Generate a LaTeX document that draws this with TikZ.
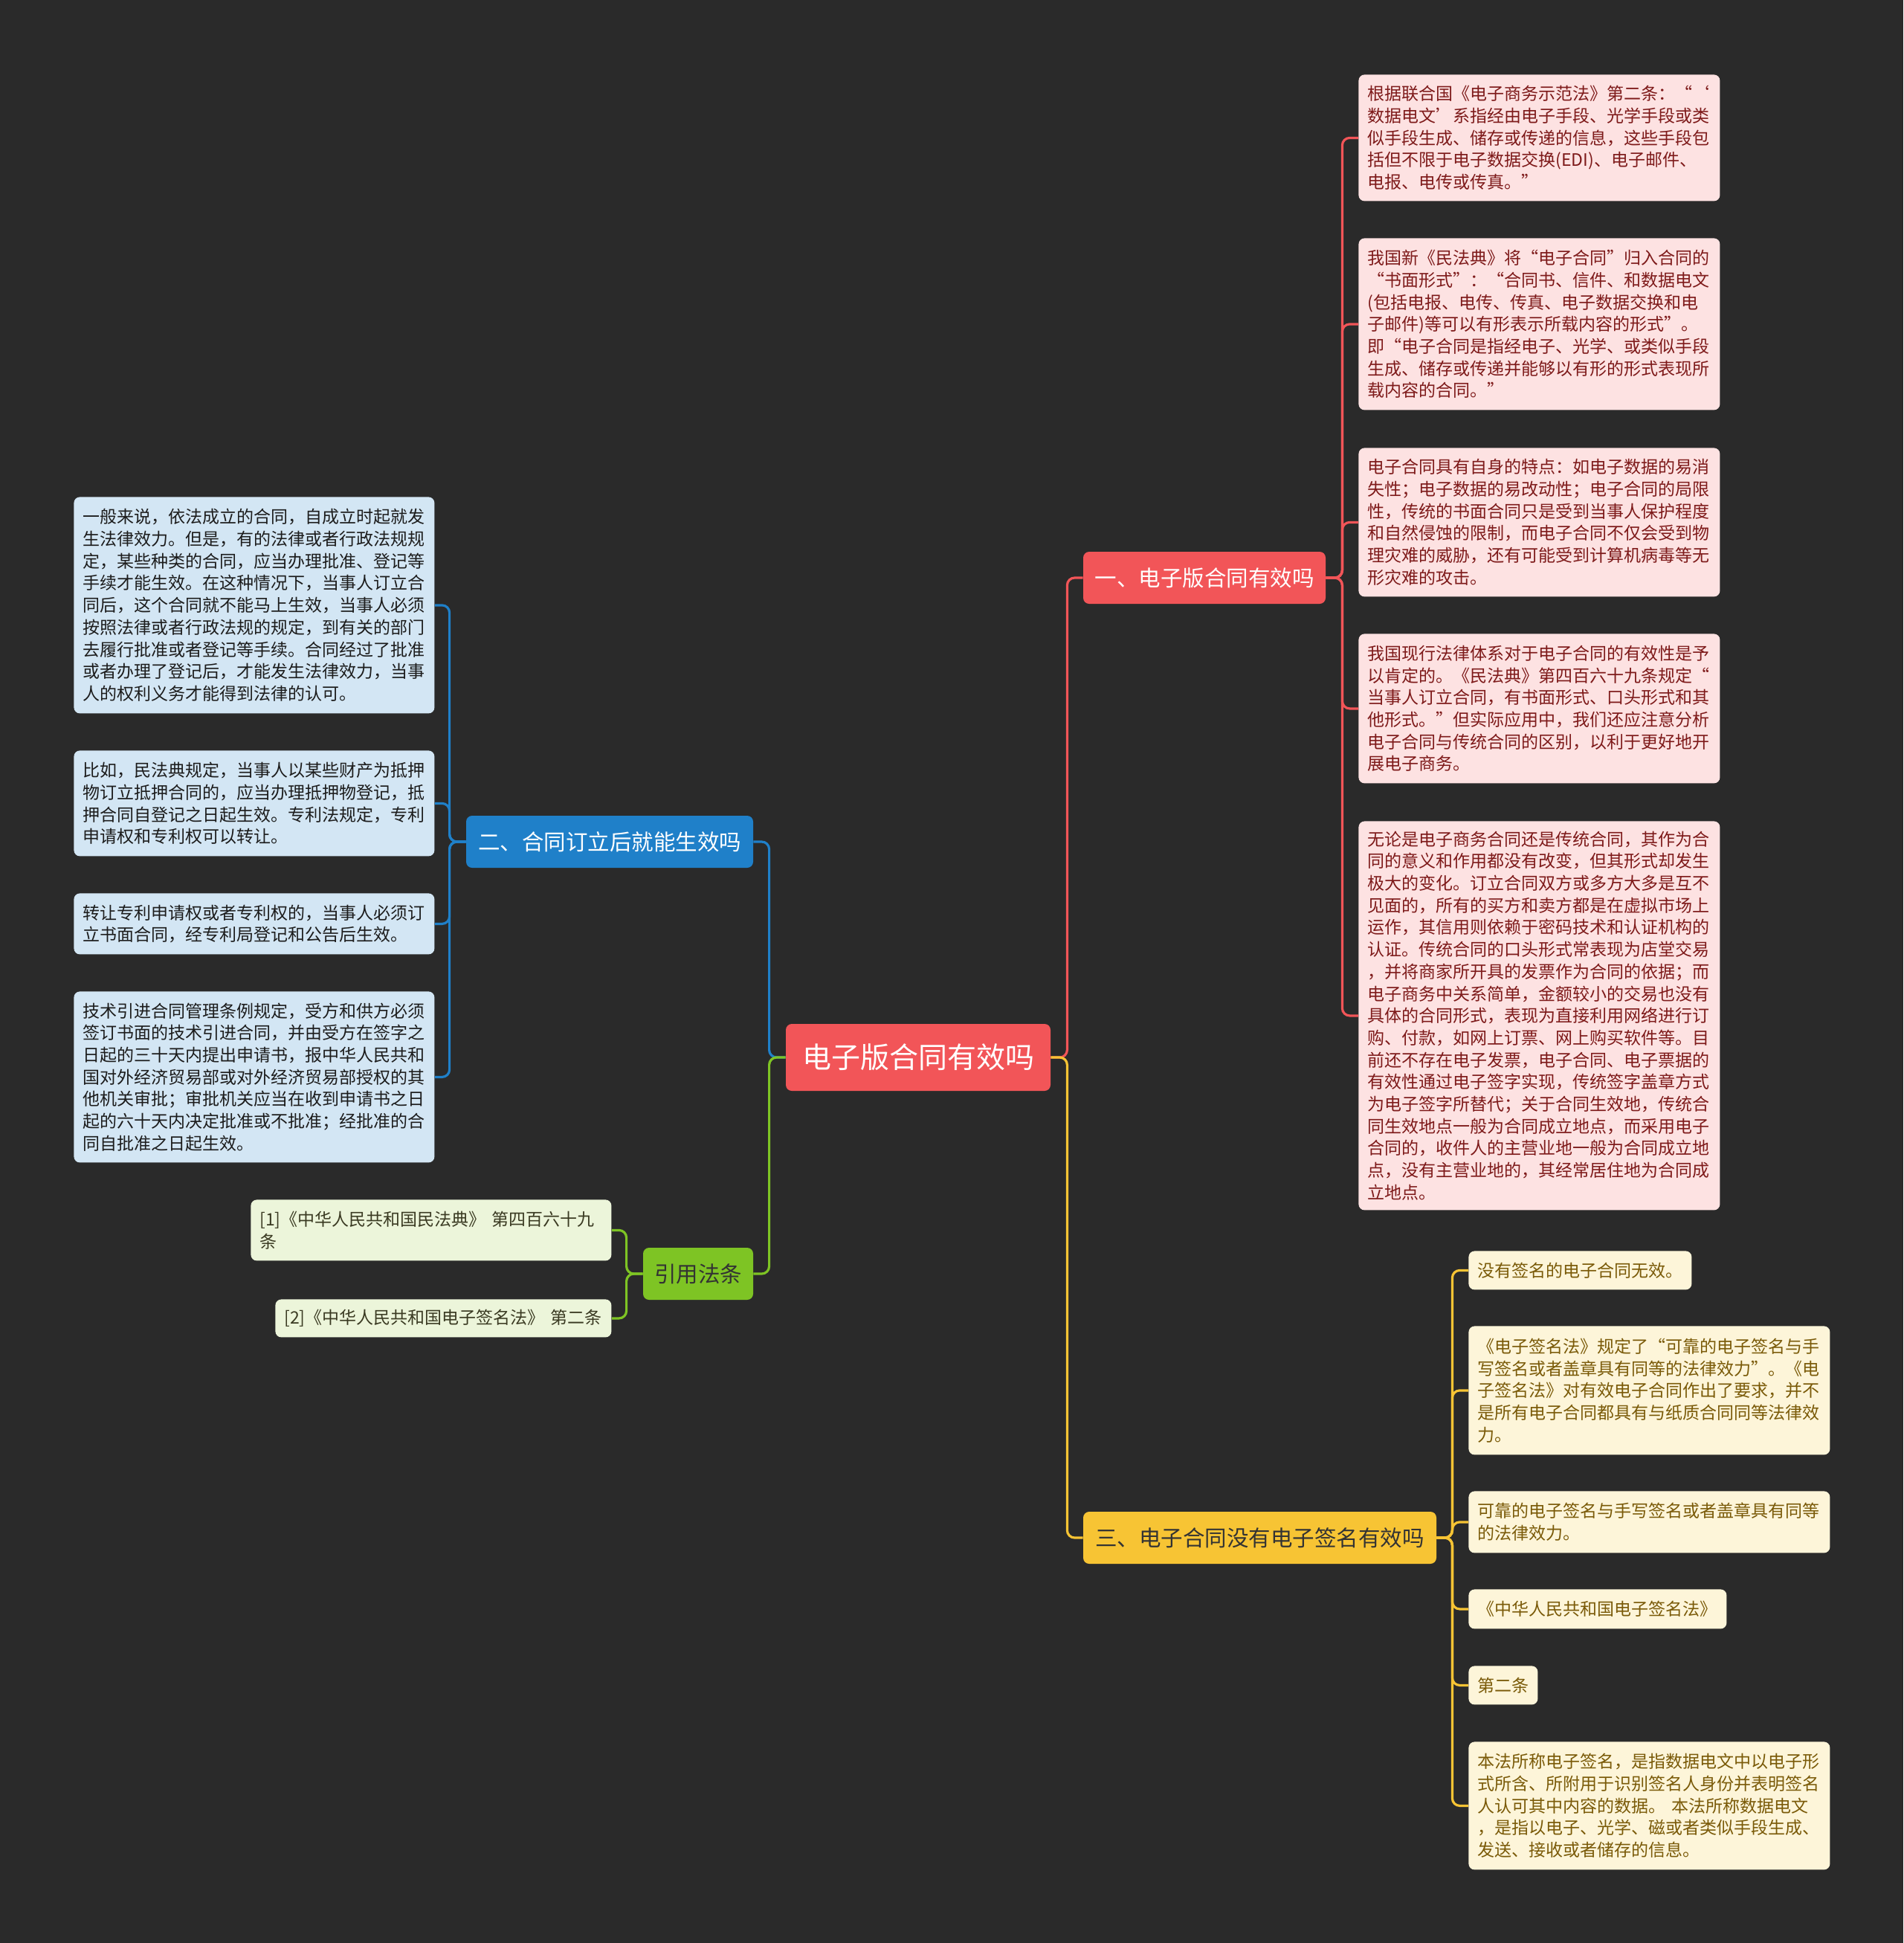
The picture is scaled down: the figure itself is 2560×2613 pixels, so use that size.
\documentclass[tikz,border=0pt]{standalone}
\usepackage{fontspec}
\newfontfamily\cjk{Noto Sans CJK SC}
\definecolor{bg}{HTML}{2A2A2A}
\definecolor{redB}{HTML}{F25558}
\definecolor{blueB}{HTML}{1F80C9}
\definecolor{yelB}{HTML}{F7C434}
\definecolor{greB}{HTML}{7EC424}
\definecolor{pinkL}{HTML}{FDE2E2}
\definecolor{blueL}{HTML}{D3E6F4}
\definecolor{greL}{HTML}{ECF5DA}
\definecolor{yelL}{HTML}{FDF5D9}
\definecolor{redT}{HTML}{7E1A1A}
\definecolor{blueT}{HTML}{1C1C1C}
\definecolor{greT}{HTML}{3A3A22}
\definecolor{yelT}{HTML}{7A5A08}
\tikzset{
  leaf/.style={anchor=north west, rounded corners=4pt, inner xsep=6pt, inner ysep=2pt, align=left,
    font=\cjk\fontsize{11.5}{14.85}\selectfont},
  leafR/.style={leaf, fill=pinkL, text=redT},
  leafB/.style={leaf, fill=blueL, text=blueT},
  leafG/.style={leaf, fill=greL, text=greT},
  leafY/.style={leaf, fill=yelL, text=yelT},
  branch/.style={rounded corners=4pt, inner sep=2pt, minimum height=35pt, align=center,
    font=\cjk\fontsize{14.75}{18}\selectfont},
  central/.style={rounded corners=4pt, fill=redB, text=white, minimum width=178pt, minimum height=45pt,
    font=\cjk\fontsize{19.5}{24}\selectfont},
  con/.style={line width=1.6pt, rounded corners=5pt},
  conR/.style={con, draw=redB},
  conB/.style={con, draw=blueB},
  conY/.style={con, draw=yelB},
  conG/.style={con, draw=greB}
}
\begin{document}
\begin{tikzpicture}[x=0.5pt,y=-0.5pt]
\fill[bg] (0,0) rectangle (2560,2613);
\useasboundingbox (0,0) rectangle (2560,2613);

% central
\node[central] (c) at (1235,1422) {电子版合同有效吗};

% branches
\node[branch, fill=redB, text=white, minimum width=163pt] (b1) at (1620,777) {一、电子版合同有效吗};
\node[branch, fill=blueB, text=white, minimum width=193pt] (b2) at (820,1132) {二、合同订立后就能生效吗};
\node[branch, fill=yelB, text=black!80, minimum width=237.5pt] (b3) at (1694.5,2068) {三、电子合同没有电子签名有效吗};
\node[branch, fill=greB, text=black!80, minimum width=74pt] (b4) at (939,1713) {引用法条};

% branch 1 leaves
\node[leafR, text width=231pt, minimum height=85pt] (l1) at (1827,100) {根据联合国《电子商务示范法》第二条：“‘\\数据电文’系指经由电子手段、光学手段或类\\似手段生成、储存或传递的信息，这些手段包\\括但不限于电子数据交换(EDI)、电子邮件、\\电报、电传或传真。”};
\node[leafR, text width=231pt, minimum height=115.5pt] (l2) at (1827,320) {我国新《民法典》将“电子合同”归入合同的\\“书面形式”：“合同书、信件、和数据电文\\(包括电报、电传、传真、电子数据交换和电\\子邮件)等可以有形表示所载内容的形式”。\\即“电子合同是指经电子、光学、或类似手段\\生成、储存或传递并能够以有形的形式表现所\\载内容的合同。”};
\node[leafR, text width=231pt, minimum height=100pt] (l3) at (1827,602) {电子合同具有自身的特点：如电子数据的易消\\失性；电子数据的易改动性；电子合同的局限\\性，传统的书面合同只是受到当事人保护程度\\和自然侵蚀的限制，而电子合同不仅会受到物\\理灾难的威胁，还有可能受到计算机病毒等无\\形灾难的攻击。};
\node[leafR, text width=231pt, minimum height=100.5pt] (l4) at (1827,852) {我国现行法律体系对于电子合同的有效性是予\\以肯定的。《民法典》第四百六十九条规定“\\当事人订立合同，有书面形式、口头形式和其\\他形式。”但实际应用中，我们还应注意分析\\电子合同与传统合同的区别，以利于更好地开\\展电子商务。};
\node[leafR, text width=231pt, minimum height=261.5pt] (l5) at (1827,1104) {无论是电子商务合同还是传统合同，其作为合\\同的意义和作用都没有改变，但其形式却发生\\极大的变化。订立合同双方或多方大多是互不\\见面的，所有的买方和卖方都是在虚拟市场上\\运作，其信用则依赖于密码技术和认证机构的\\认证。传统合同的口头形式常表现为店堂交易\\，并将商家所开具的发票作为合同的依据；而\\电子商务中关系简单，金额较小的交易也没有\\具体的合同形式，表现为直接利用网络进行订\\购、付款，如网上订票、网上购买软件等。目\\前还不存在电子发票，电子合同、电子票据的\\有效性通过电子签字实现，传统签字盖章方式\\为电子签字所替代；关于合同生效地，传统合\\同生效地点一般为合同成立地点，而采用电子\\合同的，收件人的主营业地一般为合同成立地\\点，没有主营业地的，其经常居住地为合同成\\立地点。};

% branch 2 leaves
\node[leafB, text width=230.5pt, minimum height=145.5pt] (m1) at (99,668) {一般来说，依法成立的合同，自成立时起就发\\生法律效力。但是，有的法律或者行政法规规\\定，某些种类的合同，应当办理批准、登记等\\手续才能生效。在这种情况下，当事人订立合\\同后，这个合同就不能马上生效，当事人必须\\按照法律或者行政法规的规定，到有关的部门\\去履行批准或者登记等手续。合同经过了批准\\或者办理了登记后，才能发生法律效力，当事\\人的权利义务才能得到法律的认可。};
\node[leafB, text width=230.5pt, minimum height=71pt] (m2) at (99,1009) {比如，民法典规定，当事人以某些财产为抵押\\物订立抵押合同的，应当办理抵押物登记，抵\\押合同自登记之日起生效。专利法规定，专利\\申请权和专利权可以转让。};
\node[leafB, text width=230.5pt, minimum height=41pt] (m3) at (99,1201) {转让专利申请权或者专利权的，当事人必须订\\立书面合同，经专利局登记和公告后生效。};
\node[leafB, text width=230.5pt, minimum height=115pt] (m4) at (99,1333) {技术引进合同管理条例规定，受方和供方必须\\签订书面的技术引进合同，并由受方在签字之\\日起的三十天内提出申请书，报中华人民共和\\国对外经济贸易部或对外经济贸易部授权的其\\他机关审批；审批机关应当在收到申请书之日\\起的六十天内决定批准或不批准；经批准的合\\同自批准之日起生效。};

% branch 4 leaves
\node[leafG, text width=230.5pt, minimum height=41pt] (g1) at (337,1613) {[1]《中华人民共和国民法典》~第四百六十九\\条};
\node[leafG, text width=214pt, minimum height=25.5pt] (g2) at (370,1747) {[2]《中华人民共和国电子签名法》~第二条};

% branch 3 leaves
\node[leafY, text width=138pt, minimum height=26pt] (y1) at (1975,1682) {没有签名的电子合同无效。};
\node[leafY, text width=231pt, minimum height=86.5pt] (y2) at (1975,1783) {《电子签名法》规定了“可靠的电子签名与手\\写签名或者盖章具有同等的法律效力”。《电\\子签名法》对有效电子合同作出了要求，并不\\是所有电子合同都具有与纸质合同同等法律效\\力。};
\node[leafY, text width=231pt, minimum height=41.5pt] (y3) at (1975,2005) {可靠的电子签名与手写签名或者盖章具有同等\\的法律效力。};
\node[leafY, text width=161.5pt, minimum height=26.5pt] (y4) at (1975,2137) {《中华人民共和国电子签名法》};
\node[leafY, text width=34.5pt, minimum height=26pt] (y5) at (1975,2240) {第二条};
\node[leafY, text width=231pt, minimum height=86pt] (y6) at (1975,2342) {本法所称电子签名，是指数据电文中以电子形\\式所含、所附用于识别签名人身份并表明签名\\人认可其中内容的数据。~本法所称数据电文\\，是指以电子、光学、磁或者类似手段生成、\\发送、接收或者储存的信息。};

% connectors: central to branches
\draw[conR] (c.east) -- ++(22,0) |- (b1.west);
\draw[conY] (c.east) -- ++(22,0) |- (b3.west);
\draw[conB] (c.west) -- ++(-22,0) |- (b2.east);
\draw[conG] (c.west) -- ++(-22,0) |- (b4.east);

% branch 1
\foreach \n in {l1,l2,l3,l4,l5} \draw[conR] (b1.east) -- ++(22,0) |- (\n.west);
% branch 2
\foreach \n in {m1,m2,m3,m4} \draw[conB] (b2.west) -- ++(-22,0) |- (\n.east);
% branch 4
\foreach \n in {g1,g2} \draw[conG] (b4.west) -- ++(-22,0) |- (\n.east);
% branch 3
\foreach \n in {y1,y2,y3,y4,y5,y6} \draw[conY] (b3.east) -- ++(21,0) |- (\n.west);
\end{tikzpicture}
\end{document}
